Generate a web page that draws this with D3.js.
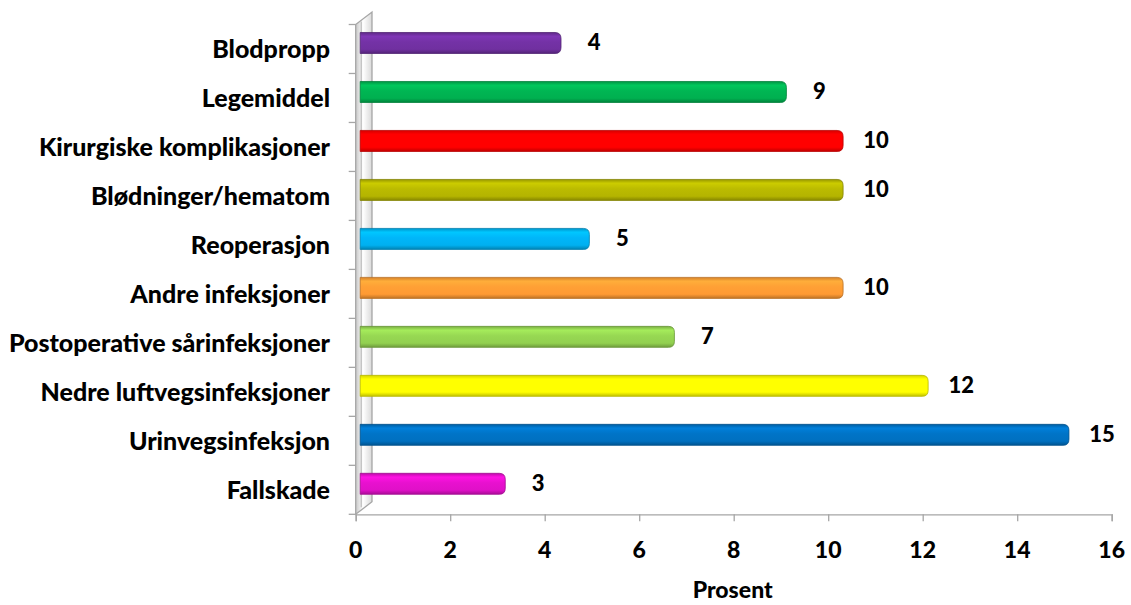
<!DOCTYPE html>
<html>
<head>
<meta charset="utf-8">
<script src="https://cdn.jsdelivr.net/npm/d3@7"></script>
<style>
    body { margin: 0; background: #fff; }
    text { font-family: Lato, "Open Sans", sans-serif; font-weight: 900; fill: #000; }
</style>
</head>
<body>
<svg id="chart" width="1131" height="605"></svg>
<script>
// categories top to bottom
const categories = [
    "Blodpropp",
    "Legemiddel",
    "Kirurgiske komplikasjoner",
    "Blødninger/hematom",
    "Reoperasjon",
    "Andre infeksjoner",
    "Postoperative sårinfeksjoner",
    "Nedre luftvegsinfeksjoner",
    "Urinvegsinfeksjon",
    "Fallskade"
];
const values = [4.25, 9.02, 10.22, 10.22, 4.85, 10.22, 6.65, 12.02, 15.0, 3.07];
const colors = ["#7030a0", "#00b050", "#ff0000", "#b4b400", "#00b0f0",
                "#ff9a33", "#92d050", "#ffff00", "#0070c0", "#e010c8"];
const xTicks = [0, 2, 4, 6, 8, 10, 12, 14, 16];
const xTitle = "Prosent";

const data = categories.map((c, i) => ({cat: c, value: values[i], color: colors[i]}));

const svg = d3.select("#chart");
const x = d3.scaleLinear().domain([0, 16]).range([355.7, 1111.7]);
const y = d3.scaleBand().domain(categories).range([24.5, 514.3]).padding(0);

// 3d offsets
const depth = {dx: 16.3, dy: -12.5};
const barShift = {dx: 4.5, dy: -6};
const barH = 21;

const defs = svg.append("defs");

// side wall
const wallGrad = defs.append("linearGradient").attr("id", "wallGrad")
    .attr("x1", 0).attr("x2", 1).attr("y1", 0).attr("y2", 0);
wallGrad.append("stop").attr("offset", "0%").attr("stop-color", "#c8c8c8");
wallGrad.append("stop").attr("offset", "45%").attr("stop-color", "#ffffff");
wallGrad.append("stop").attr("offset", "100%").attr("stop-color", "#d9d9d9");

const x0 = x(0), yTop = y.range()[0], yBot = y.range()[1];
svg.append("path")
    .attr("d", `M${x0},${yBot} L${x0},${yTop} L${x0 + depth.dx},${yTop + depth.dy} L${x0 + depth.dx},${yBot + depth.dy} Z`)
    .attr("fill", "url(#wallGrad)")
    .attr("stroke", "#a6a6a6")
    .attr("stroke-width", 1.3);
svg.append("line")
    .attr("x1", x0 + 5.5).attr("x2", x0 + 5.5)
    .attr("y1", yTop - 3).attr("y2", yBot - 7)
    .attr("stroke", "#b0b0b0").attr("stroke-width", 1);

// y axis ticks
const bounds = categories.map(c => y(c)).concat([yBot]);
svg.append("g").selectAll("line")
    .data(bounds)
    .join("line")
    .attr("x1", x0 - 7).attr("x2", x0)
    .attr("y1", d => d).attr("y2", d => d)
    .attr("stroke", "#a6a6a6").attr("stroke-width", 1.3);

// x axis (lines from d3, labels drawn below)
const xAxis = svg.append("g")
    .attr("transform", `translate(0, ${yBot})`)
    .call(d3.axisBottom(x).tickValues(xTicks).tickSize(7).tickFormat(""));
xAxis.select(".domain").attr("stroke", "#a6a6a6").attr("stroke-width", 1.3);
xAxis.selectAll(".tick line").attr("stroke", "#a6a6a6").attr("stroke-width", 1.3);

svg.append("g").selectAll("text")
    .data(xTicks)
    .join("text")
    .attr("x", d => x(d))
    .attr("y", 557.5)
    .attr("text-anchor", "middle")
    .style("font-size", "23px")
    .text(d => d);

svg.append("text")
    .attr("x", (x(0) + x(16)) / 2 - 1)
    .attr("y", 598)
    .attr("text-anchor", "middle")
    .style("font-size", "23px")
    .text(xTitle);

// category labels
svg.append("g").selectAll("text")
    .data(data)
    .join("text")
    .attr("x", 330)
    .attr("y", d => y(d.cat) + y.bandwidth() / 2 + 9.5)
    .attr("text-anchor", "end")
    .style("font-size", "25px")
    .text(d => d.cat);

// bar gradients
data.forEach((d, i) => {
    const c = d3.color(d.color);
    const g = defs.append("linearGradient").attr("id", "bar" + i)
        .attr("x1", 0).attr("x2", 0).attr("y1", 0).attr("y2", 1);
    g.append("stop").attr("offset", "0%").attr("stop-color", c.darker(0.5));
    g.append("stop").attr("offset", "18%").attr("stop-color", c.brighter(0.35));
    g.append("stop").attr("offset", "45%").attr("stop-color", c.brighter(0.1));
    g.append("stop").attr("offset", "80%").attr("stop-color", c);
    g.append("stop").attr("offset", "100%").attr("stop-color", c.darker(0.8));
});

function barPath(d) {
    const xs = x(0) + barShift.dx, xe = x(d.value) + barShift.dx;
    const yc = y(d.cat) + y.bandwidth() / 2 + barShift.dy;
    const t = yc - barH / 2, b = yc + barH / 2, r = 6;
    return `M${xs},${t} L${xe - r},${t} Q${xe},${t} ${xe},${t + r} L${xe},${b - r} Q${xe},${b} ${xe - r},${b} L${xs},${b} Z`;
}

svg.append("g").selectAll("path")
    .data(data)
    .join("path")
    .attr("d", barPath)
    .attr("fill", (d, i) => `url(#bar${i})`)
    .attr("stroke", d => d3.color(d.color).darker(0.9))
    .attr("stroke-width", 0.8);

// value labels
svg.append("g").selectAll("text")
    .data(data)
    .join("text")
    .attr("x", d => x(d.value) + barShift.dx + 33)
    .attr("y", d => y(d.cat) + y.bandwidth() / 2 + barShift.dy + 7.5)
    .attr("text-anchor", "middle")
    .style("font-size", "22px")
    .text(d => d3.format(".0f")(d.value));
</script>
</body>
</html>
